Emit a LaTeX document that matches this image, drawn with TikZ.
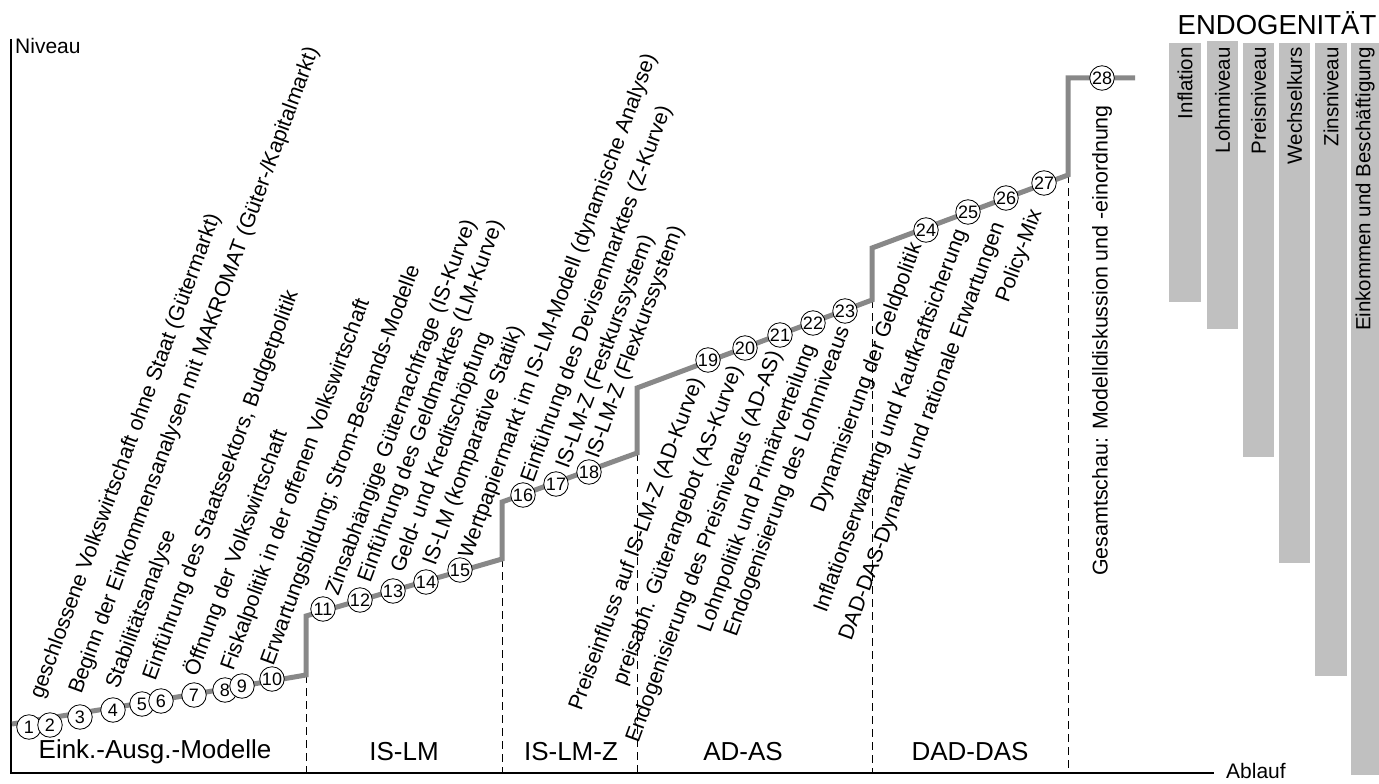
\documentclass[tikz,border=0pt]{standalone}
\usepackage{fontspec}
\setmainfont{Liberation Sans}
\definecolor{stepgray}{HTML}{888888}
\definecolor{bargray}{HTML}{C0C0C0}
\begin{document}
\begin{tikzpicture}[x=1pt,y=-1pt,
  lbl/.style={font=\fontsize{21.4}{25}\selectfont, inner sep=0pt, rotate=69.8, anchor=west},
  num/.style={circle, draw=black, line width=0.8pt, fill=white, minimum size=24.5pt, inner sep=0pt, font=\fontsize{18}{20}\selectfont},
  cat/.style={font=\fontsize{26}{30}\selectfont, inner sep=0pt},
  bartext/.style={font=\fontsize{20.5}{24}\selectfont, rotate=90, anchor=east, inner sep=0pt},
  phase/.style={dash pattern=on 8pt off 5pt, line width=0.8pt},
  stepline/.style={draw=stepgray, line width=5pt},
  axis/.style={line width=2pt},
  bar/.style={fill=bargray}]
\useasboundingbox (0,0) rectangle (1379,784);

% axes
\coordinate (o) at (11,773);
\coordinate (ytop) at (11,39);
\coordinate (xend) at (1214,773);
\draw[axis] (ytop) -- (o) -- (xend);
\node[font=\fontsize{21}{24}\selectfont, anchor=base west, inner sep=0pt] (niveau) at (15,54) {Niveau};
\node[font=\fontsize{21}{24}\selectfont, anchor=west, inner sep=0pt] (ablauf) at (1226,771) {Ablauf};

% step line corners
\coordinate (s0) at (12,724);
\coordinate (s1) at (142,703);
\coordinate (s2) at (306,675);
\coordinate (s3) at (306,616);
\coordinate (s4) at (502,559);
\coordinate (s5) at (502,502);
\coordinate (s6) at (637,453);
\coordinate (s7) at (637,388);
\coordinate (s8) at (872,300);
\coordinate (s9) at (872,248);
\coordinate (s10) at (1068,175);
\coordinate (s11) at (1068,78);
\coordinate (s12) at (1135,78);

% phase separators
\coordinate (d1) at (306,773);
\coordinate (d2) at (502,773);
\coordinate (d3) at (637,773);
\coordinate (d4) at (872,773);
\coordinate (d5) at (1068,773);
\draw[phase] (s2) -- (d1);
\draw[phase] (s4) -- (d2);
\draw[phase] (s6) -- (d3);
\draw[phase] (s8) -- (d4);
\draw[phase] (s10) -- (d5);

\draw[stepline] (s0) -- (s1) -- (s2) -- (s3) -- (s4) -- (s5) -- (s6) -- (s7) -- (s8) -- (s9) -- (s10) -- (s11) -- (s12);

% phase names
\node[cat] (ph1) at (155,752) {Eink.-Ausg.-Modelle};
\node[cat] (ph2) at (404,752) {IS-LM};
\node[cat] (ph3) at (571,752) {IS-LM-Z};
\node[cat] (ph4) at (743,752) {AD-AS};
\node[cat] (ph5) at (970,752) {DAD-DAS};

% step numbers
\node[num] (c1) at (29,727) {1};
\node[num] (c2) at (50,725) {2};
\node[num] (c3) at (80,717) {3};
\node[num] (c4) at (113,710) {4};
\node[num] (c5) at (142,704) {5};
\node[num] (c6) at (161,701) {6};
\node[num] (c7) at (194,695) {7};
\node[num] (c8) at (225,690) {8};
\node[num] (c9) at (242,686) {9};
\node[num] (c10) at (272,679) {10};
\node[num] (c11) at (323,609) {11};
\node[num] (c12) at (360,600) {12};
\node[num] (c13) at (393,591) {13};
\node[num] (c14) at (426,582) {14};
\node[num] (c15) at (460,570) {15};
\node[num] (c16) at (523,495) {16};
\node[num] (c17) at (556,484) {17};
\node[num] (c18) at (589,472) {18};
\node[num] (c19) at (708,360) {19};
\node[num] (c20) at (745,348) {20};
\node[num] (c21) at (780,335) {21};
\node[num] (c22) at (813,323) {22};
\node[num] (c23) at (845,311) {23};
\node[num] (c24) at (926,230) {24};
\node[num] (c25) at (968,212) {25};
\node[num] (c26) at (1006,198) {26};
\node[num] (c27) at (1044,183) {27};
\node[num] (c28) at (1102,78) {28};

% topic labels
\node[lbl] (l1) at (37,698) {geschlossene Volkswirtschaft ohne Staat (Gütermarkt)};
\node[lbl] (l2) at (76,693) {Beginn der Einkommensanalysen mit MAKROMAT (Güter-/Kapitalmarkt)};
\node[lbl] (l3) at (113,688) {Stabilitätsanalyse};
\node[lbl] (l4) at (150,680) {Einführung des Staatssektors, Budgetpolitik};
\node[lbl] (l5) at (191,675) {Öffnung der Volkswirtschaft};
\node[lbl] (l6) at (228,670) {Fiskalpolitik in der offenen Volkswirtschaft};
\node[lbl] (l7) at (268,665) {Erwartungsbildung; Strom-Bestands-Modelle};
\node[lbl] (l8) at (333,595) {Zinsabhängige Güternachfrage (IS-Kurve)};
\node[lbl] (l9) at (365,582) {Einführung des Geldmarktes (LM-Kurve)};
\node[lbl] (l10) at (398,572) {Geld- und Kreditschöpfung};
\node[lbl] (l11) at (430,565) {IS-LM (komparative Statik)};
\node[lbl] (l12) at (466,558) {Wertpapiermarkt im IS-LM-Modell (dynamische Analyse)};
\node[lbl] (l13) at (528,482) {Einführung des Devisenmarktes (Z-Kurve)};
\node[lbl] (l14) at (563,468) {IS-LM-Z (Festkurssystem)};
\node[lbl] (l15) at (593,458) {IS-LM-Z (Flexkurssystem)};
\node[lbl] (l16) at (576,710) {Preiseinfluss auf IS-LM-Z (AD-Kurve)};
\node[lbl] (l17) at (620,685) {preisabh. Güterangebot (AS-Kurve)};
\node[lbl] (l18) at (633,742) {Endogenisierung des Preisniveaus (AD-AS)};
\node[lbl] (l19) at (705,632) {Lohnpolitik und Primärverteilung};
\node[lbl] (l20) at (731,636) {Endogenisierung des Lohnniveaus};
\node[lbl] (l21) at (818,512) {Dynamisierung der Geldpolitik};
\node[lbl] (l22) at (821,612) {Inflationserwartung und Kaufkraftsicherung};
\node[lbl] (l23) at (846,640) {DAD-DAS-Dynamik und rationale Erwartungen};
\node[lbl] (l24) at (1003,302) {Policy-Mix};
\node[lbl, rotate=20.2, anchor=east] (l25) at (1102,105) {Gesamtschau: Modelldiskussion und -einordnung};

% endogeneity
\node[font=\fontsize{27.5}{32}\selectfont, anchor=base, inner sep=0pt] (endo) at (1277,35) {ENDOGENITÄT};
\fill[bar] (1169,43) rectangle (1201,302);
\fill[bar] (1207,41) rectangle (1238,329);
\fill[bar] (1243,43) rectangle (1274,457);
\fill[bar] (1279,43) rectangle (1310,563);
\fill[bar] (1315,43) rectangle (1347,676);
\fill[bar] (1351,43) rectangle (1379,775);
\node[bartext] (e1) at (1185,47) {Inflation};
\node[bartext] (e2) at (1222.5,47) {Lohnniveau};
\node[bartext] (e3) at (1258.5,47) {Preisniveau};
\node[bartext] (e4) at (1294.5,47) {Wechselkurs};
\node[bartext] (e5) at (1331,47) {Zinsniveau};
\node[bartext] (e6) at (1365,47) {Einkommen und Beschäftigung};
\end{tikzpicture}
\end{document}
